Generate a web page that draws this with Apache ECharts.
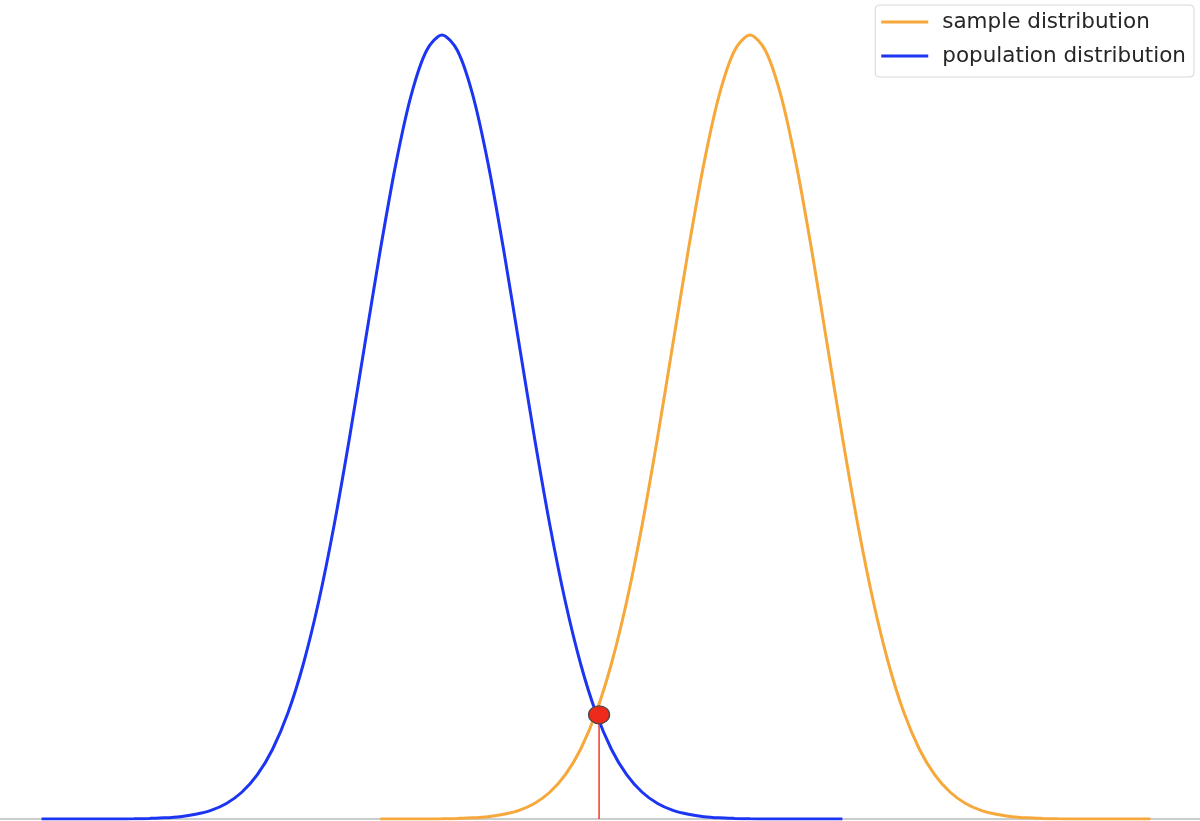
<!DOCTYPE html>
<html>
<head>
<meta charset="utf-8">
<title>sample vs population distribution</title>
<script src="https://cdn.jsdelivr.net/npm/echarts@6/dist/echarts.min.js"></script>
<style>
  html, body { margin: 0; padding: 0; background: #fff; }
  #chart { width: 1200px; height: 821px; }
</style>
</head>
<body>
<div id="chart"></div>
<script>
// values (x in sigma units, population mean at 0)
const popX = [-5.2, -5.0, -4.8, -4.6, -4.4, -4.2, -4.0, -3.8, -3.6, -3.4, -3.2, -3.0, -2.8, -2.6,
  -2.4, -2.2, -2.0, -1.8, -1.6, -1.4, -1.2, -1.0, -0.8, -0.6, -0.4, -0.2, 0,
  0.2, 0.4, 0.6, 0.8, 1.0, 1.2, 1.4, 1.6, 1.8, 2.0, 2.2, 2.4, 2.6, 2.8, 3.0, 3.2, 3.4, 3.6,
  3.8, 4.0, 4.2, 4.4, 4.6, 4.8, 5.0, 5.2];
const popY = [0, 0, 0, 0, 0, 0, 0.0001, 0.0003, 0.0006, 0.0012, 0.0024, 0.0044, 0.0079, 0.0136,
  0.0224, 0.0355, 0.0540, 0.0790, 0.1109, 0.1497, 0.1942, 0.2420, 0.2897, 0.3332, 0.3683, 0.3910, 0.3989,
  0.3910, 0.3683, 0.3332, 0.2897, 0.2420, 0.1942, 0.1497, 0.1109, 0.0790, 0.0540, 0.0355, 0.0224, 0.0136,
  0.0079, 0.0044, 0.0024, 0.0012, 0.0006, 0.0003, 0.0001, 0, 0, 0, 0, 0, 0];

const sampleX = [-0.8, -0.6, -0.4, -0.2, 0, 0.2, 0.4, 0.6, 0.8, 1.0, 1.2, 1.4, 1.6, 1.8, 2.0,
  2.2, 2.4, 2.6, 2.8, 3.0, 3.2, 3.4, 3.6, 3.8, 4.0,
  4.2, 4.4, 4.6, 4.8, 5.0, 5.2, 5.4, 5.6, 5.8, 6.0, 6.2, 6.4, 6.6, 6.8, 7.0, 7.2, 7.4, 7.6,
  7.8, 8.0, 8.2, 8.4, 8.6, 8.8, 9.0, 9.2];
const sampleY = [0, 0, 0, 0, 0.0001, 0.0003, 0.0006, 0.0012, 0.0024, 0.0044, 0.0079, 0.0136,
  0.0224, 0.0355, 0.0540, 0.0790, 0.1109, 0.1497, 0.1942, 0.2420, 0.2897, 0.3332, 0.3683, 0.3910, 0.3989,
  0.3910, 0.3683, 0.3332, 0.2897, 0.2420, 0.1942, 0.1497, 0.1109, 0.0790, 0.0540, 0.0355, 0.0224, 0.0136,
  0.0079, 0.0044, 0.0024, 0.0012, 0.0006, 0.0003, 0.0001, 0, 0, 0, 0, 0, 0];

// the marked crossing point
const critX = [2.04];
const critY = [0.053];

const ORANGE = '#f6a83a';
const BLUE = '#1b35f2';
const RED = '#ee2a1a';
const FONT = 'DejaVu Sans';

const pairs = (xs, ys) => xs.map((x, i) => [x, ys[i]]);

const myChart = echarts.init(document.getElementById('chart'), null, { renderer: 'canvas' });

myChart.setOption({
  backgroundColor: '#fff',
  animation: false,
  grid: {
    left: 0,
    right: 0,
    top: 0,
    bottom: 2,
  },
  legend: {
    orient: 'vertical',
    right: 6,
    top: 5,
    data: [
      { name: 'sample distribution', icon: 'rect' },
      { name: 'population distribution', icon: 'rect' },
    ],
    itemWidth: 47,
    itemHeight: 3,
    itemGap: 10,
    padding: [5, 8, 9, 6],
    backgroundColor: 'rgba(255,255,255,0.85)',
    borderColor: '#d6d6d6',
    borderWidth: 1,
    borderRadius: 4,
    textStyle: {
      fontFamily: FONT,
      fontSize: 21.5,
      color: '#262626',
      lineHeight: 24,
      padding: [0, 0, 0, 9],
    },
  },
  xAxis: {
    type: 'value',
    min: -5.74,
    max: 9.844,
    axisLine: {
      show: true,
      onZero: false,
      lineStyle: { color: '#cccccc', width: 2 },
    },
    axisTick: { show: false },
    axisLabel: { show: false },
    splitLine: { show: false },
  },
  yAxis: {
    type: 'value',
    min: 0,
    max: 0.4167,
    show: false,
    splitLine: { show: false },
  },
  series: [
    {
      name: 'sample distribution',
      type: 'line',
      data: pairs(sampleX, sampleY),
      symbol: 'none',
      smooth: 0.3,
      color: ORANGE,
      lineStyle: { color: ORANGE, width: 3 },
      z: 2,
    },
    {
      name: 'population distribution',
      type: 'line',
      data: pairs(popX, popY),
      symbol: 'none',
      smooth: 0.3,
      color: BLUE,
      lineStyle: { color: BLUE, width: 3 },
      z: 3,
    },
    {
      name: 'critical',
      type: 'line',
      data: [[critX[0], 0], [critX[0], critY[0]]],
      symbol: 'none',
      silent: true,
      lineStyle: { color: RED, width: 1.4 },
      z: 4,
    },
    {
      name: 'crossing',
      type: 'scatter',
      data: pairs(critX, critY),
      symbol: 'circle',
      symbolSize: [21, 18],
      itemStyle: { color: RED, opacity: 1, borderColor: '#4a4a4a', borderWidth: 1.2 },
      z: 5,
    },
  ],
});
</script>
</body>
</html>
